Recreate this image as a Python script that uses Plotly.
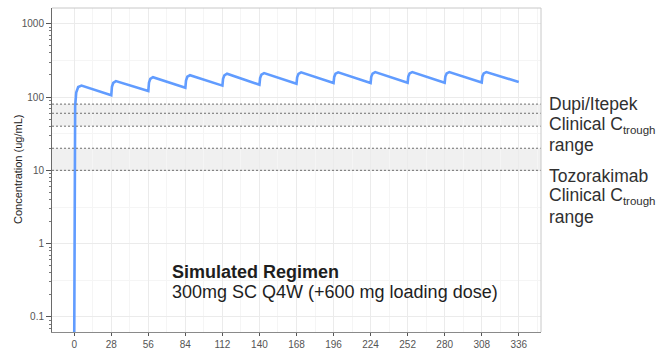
import plotly.graph_objects as go

# ---- data ----
days = [0, 0.3, 0.7, 1.5, 3, 5.5, 28,
        28.5, 29.5, 31.5, 56,
        56.5, 57.5, 59.5, 84,
        84.5, 85.5, 87.5, 112,
        112.5, 113.5, 115.5, 140,
        140.5, 141.5, 143.5, 168,
        168.5, 169.5, 171.5, 196,
        196.5, 197.5, 199.5, 224,
        224.5, 225.5, 227.5, 252,
        252.5, 253.5, 255.5, 280,
        280.5, 281.5, 283.5, 308,
        308.5, 309.5, 311.5, 336]
conc = [0.05, 15, 75, 115, 137, 143, 106,
        138, 156, 165, 121,
        157, 177, 186, 134,
        168, 189, 198, 143,
        177, 198, 208, 147,
        181, 202, 212, 152,
        186, 207, 217, 155,
        188, 208, 217, 155,
        189, 209, 219, 157,
        190, 210, 219, 157,
        190, 210, 219, 158,
        191, 210, 219, 160]

x_ticks = [0, 28, 56, 84, 112, 140, 168, 196, 224, 252, 280, 308, 336]
x_minor = [14, 42, 70, 98, 126, 154, 182, 210, 238, 266, 294, 322, 350]
y_ticks = [0.1, 1, 10, 100, 1000]
y_tick_text = ["0.1", "1", "10", "100", "1000"]
y_minor = [0.316, 3.16, 31.6, 316]
y_logticks = [m * 10 ** e for e in range(-2, 4) for m in range(2, 10)]

dupi_band = [40, 80]
dupi_lines = [40, 60, 80]
tozo_band = [10, 20]
tozo_lines = [10, 20]

x_range = [-16.8, 352.8]
y_range = [-1.205, 3.214]

FONT = "Arial, Liberation Sans, sans-serif"
LINE_BLUE = "#619CFF"

fig = go.Figure()

fig.add_trace(go.Scatter(x=days, y=conc, mode="lines",
                         line=dict(color=LINE_BLUE, width=2.6),
                         showlegend=False, hoverinfo="skip"))

# invisible trace on secondary y axis for log ticks
fig.add_trace(go.Scatter(x=[None], y=[None], yaxis="y2", showlegend=False,
                         hoverinfo="skip"))

shapes = []
for band in (dupi_band, tozo_band):
    shapes.append(dict(type="rect", xref="paper", yref="y", layer="below",
                       x0=0, x1=1, y0=band[0], y1=band[1],
                       fillcolor="#F0F0F0", line=dict(width=0)))
for v in dupi_lines + tozo_lines:
    shapes.append(dict(type="line", xref="paper", yref="y", layer="above",
                       x0=0, x1=1, y0=v, y1=v,
                       line=dict(color="#6E6E6E", width=1, dash="2px,2px")))
# panel border top/right
shapes.append(dict(type="line", xref="paper", yref="paper", x0=0, x1=1, y0=1, y1=1,
                   line=dict(color="#C8C8C8", width=1)))
shapes.append(dict(type="line", xref="paper", yref="paper", x0=1, x1=1, y0=0, y1=1,
                   line=dict(color="#C8C8C8", width=1)))

L, R, T, B = 52, 118, 8, 17
W, H = 659, 349
PW, PH = W - L - R, H - T - B


def py(y):
    return (H - B - y) / PH


def px(x):
    return (x - L) / PW


ann = []
TXT = "#303030"
FS = 18
SUB = "<sub><span style='font-size:11.5px'>trough</span></sub>"
right_lines = [("Dupi/Itepek", 104), ("Clinical C" + SUB, 125), ("range", 145),
               ("Tozorakimab", 176), ("Clinical C" + SUB, 196), ("range", 217)]
for t, yy in right_lines:
    ann.append(dict(text=t, xref="paper", yref="paper", x=px(547), y=py(yy),
                    xanchor="left", yanchor="middle", showarrow=False,
                    font=dict(family=FONT, size=17.5, color=TXT)))
ann.append(dict(text="<b>Simulated Regimen</b>", xref="paper", yref="paper",
                x=px(170), y=py(272), xanchor="left", yanchor="middle", showarrow=False,
                font=dict(family=FONT, size=FS, color="#1E1E1E")))
ann.append(dict(text="300mg SC Q4W (+600 mg loading dose)", xref="paper", yref="paper",
                x=px(170), y=py(292), xanchor="left", yanchor="middle", showarrow=False,
                font=dict(family=FONT, size=FS, color="#1E1E1E")))
ann.append(dict(text="Concentration (ug/mL)", xref="paper", yref="paper",
                x=px(18), y=py(170), xanchor="center", yanchor="middle",
                textangle=-90, showarrow=False,
                font=dict(family=FONT, size=11, color="#222222")))

fig.update_layout(
    width=W, height=H,
    margin=dict(l=L, r=R, t=T, b=B, pad=0, autoexpand=False),
    plot_bgcolor="white", paper_bgcolor="white",
    font=dict(family=FONT),
    shapes=shapes, annotations=ann,
    xaxis=dict(range=x_range, tickmode="array", tickvals=x_ticks, automargin=False,
               ticks="outside", ticklen=3, tickcolor="#555555",
               tickfont=dict(size=10, color="#555555", family=FONT),
               showline=True, linecolor="#8A8A8A", linewidth=1,
               showgrid=True, gridcolor="#EBEBEB", gridwidth=1,
               minor=dict(tickmode="array", tickvals=x_minor, showgrid=True,
                          gridcolor="#F5F5F5", gridwidth=1),
               zeroline=False),
    yaxis=dict(type="log", range=y_range, tickmode="array", automargin=False,
               tickvals=y_ticks, ticktext=y_tick_text,
               ticks="outside", ticklen=5, tickcolor="#555555",
               tickfont=dict(size=10, color="#555555", family=FONT),
               showline=True, linecolor="#6A6A6A", linewidth=1,
               showgrid=True, gridcolor="#EBEBEB", gridwidth=1,
               minor=dict(tickmode="array", tickvals=y_minor, showgrid=True,
                          gridcolor="#F5F5F5", gridwidth=1),
               zeroline=False),
    yaxis2=dict(type="log", range=y_range, overlaying="y", side="left", automargin=False,
                tickmode="array", tickvals=y_logticks, showticklabels=False,
                ticks="outside", ticklen=2, tickcolor="#777777",
                showgrid=False, zeroline=False, showline=False),
)

fig.write_html("out.html", config={"responsive": False, "displayModeBar": False},
               post_script="document.body.style.margin='0px';document.body.style.padding='0px';")
